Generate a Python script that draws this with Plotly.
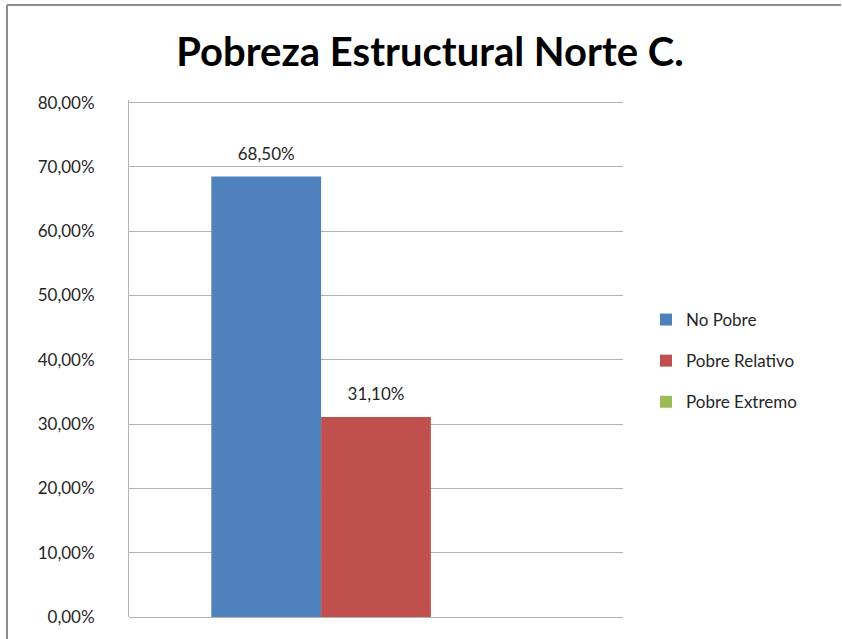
import plotly.graph_objects as go

series = ["No Pobre", "Pobre Relativo", "Pobre Extremo"]
values = [0.685, 0.311, None]
colors = ["#4F81BD", "#C0504D", "#9BBB59"]
category = [0]
y_ticks = [0, 0.1, 0.2, 0.3, 0.4, 0.5, 0.6, 0.7, 0.8]
title = "Pobreza Estructural Norte C."

FONT = "Lato, 'Open Sans', sans-serif"
PH = 517  # plot height in px

fig = go.Figure()
for name, v, c in zip(series, values, colors):
    fig.add_trace(go.Bar(
        x=category, y=[v], name=name, legendgroup=name,
        marker=dict(color=c, line=dict(width=0)),
        texttemplate="<span style='font-size:17px'>%{y:.2%}</span><br> ",
        textposition="outside", cliponaxis=False,
        textfont=dict(family=FONT, size=9, color="#262626"),
        hoverinfo="skip",
    ))

fig.update_layout(
    width=842, height=639,
    margin=dict(l=129, r=219, t=100, b=22),
    paper_bgcolor="white", plot_bgcolor="white",
    separators=",.",
    barmode="group", bargap=1/3, bargroupgap=0,
    title=dict(text=f"<b>{title}</b>", x=430/842, xref="container", xanchor="center",
               y=1-52/639, yref="container", yanchor="middle",
               font=dict(family=FONT, size=40, color="black")),
    showlegend=True,
    legend=dict(x=(646-129)/494, xanchor="left", y=(617-361)/PH, yanchor="middle",
                font=dict(family=FONT, size=17, color="#262626"),
                tracegroupgap=16, itemwidth=30, bgcolor="rgba(0,0,0,0)"),
    xaxis=dict(range=[-0.5, 0.5], showticklabels=False, showgrid=False, zeroline=False,
               showline=False, fixedrange=True),
    yaxis=dict(range=[0, 0.804], tickvals=y_ticks, tickformat=".2%",
               showgrid=True, gridcolor="#B3B3B3", gridwidth=1,
               zeroline=True, zerolinecolor="#B3B3B3", zerolinewidth=1,
               showline=True, linecolor="#B3B3B3", linewidth=1,
               ticks="", ticklabelstandoff=30,
               tickfont=dict(family=FONT, size=17, color="#262626")),
    shapes=[
        dict(type="line", xref="paper", yref="paper", x0=(7-129)/494, x1=(841-129)/494,
             y0=(617-5)/PH, y1=(617-5)/PH, line=dict(color="#8C8C8C", width=2)),
        dict(type="line", xref="paper", yref="paper", x0=(7-129)/494, x1=(7-129)/494,
             y0=(617-5)/PH, y1=(617-640)/PH, line=dict(color="#8C8C8C", width=2)),
    ],
)

fig.write_html("out.html", config={"displayModeBar": False},
               post_script="document.body.style.margin='0';document.body.style.overflow='hidden';")
